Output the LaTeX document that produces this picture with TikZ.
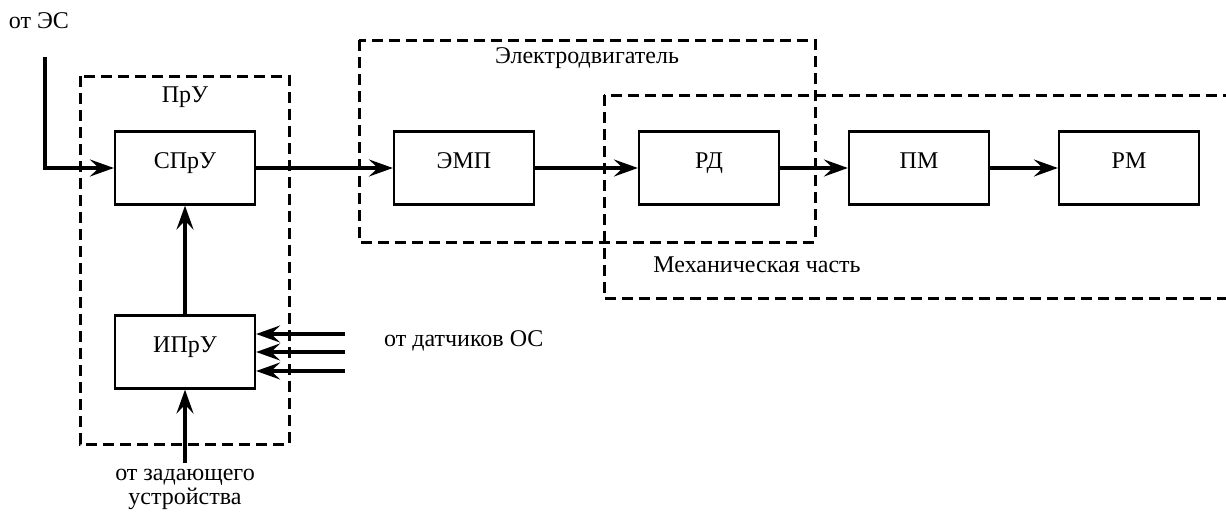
\documentclass[tikz,border=0pt]{standalone}
\usepackage{fontspec}
\setmainfont{Liberation Serif}
\newfontfamily\schemefont{Liberation Serif}
\usetikzlibrary{arrows.meta}
\begin{document}
\begin{tikzpicture}[x=1pt,y=-1pt,
  font=\schemefont\fontsize{24}{28}\selectfont,
  blk/.style={draw,line width=2.2pt,minimum width=140pt,minimum height=73pt,
    inner sep=0pt,text height=17pt,text depth=17pt},
  flow/.style={line width=3.4pt,-{Stealth[length=24pt,width=17pt,inset=9pt]}},
  group/.style={draw,line width=3pt,dash pattern=on 11pt off 6pt},
  lbl/.style={inner sep=0pt,anchor=center}]
\clip (0,0) rectangle (1226,517);
\fill[white] (0,0) rectangle (1226,517);

% dashed groupings
\draw[group] (80,76) rectangle (289,444);
\draw[group] (359,40) rectangle (815,242);
\draw[group] (604,95) rectangle (1260,298);
\node[lbl] (pru) at (185,97) {ПрУ};
\node[lbl] (ed) at (587,58) {Электродвигатель};
\node[lbl] (mech) at (757,265) {Механическая часть};

% blocks
\node[blk] (spru) at (185,168) {СПрУ};
\node[blk] (ipru) at (185,352) {ИПрУ};
\node[blk] (emp)  at (464,168) {ЭМП};
\node[blk] (rd)   at (709,168) {РД};
\node[blk] (pm)   at (919,168) {ПМ};
\node[blk] (rm)   at (1129,168) {РМ};

% external labels and sources
\node[lbl] (es) at (39,21) {от ЭС};
\coordinate (esin) at (45,57);
\node[lbl,align=center,font=\schemefont\fontsize{24}{24}\selectfont] (zad) at (185,489) {от задающего\\устройства};
\coordinate (zadin) at (185,463);
\node[lbl,anchor=west] (dat) at (384,341) {от датчиков ОС};
\coordinate (s1) at (345,334);
\coordinate (s2) at (345,352);
\coordinate (s3) at (345,371);

% connections
\draw[flow] (esin) |- (spru.west);
\draw[flow] (ipru) -- (spru);
\draw[flow] (zadin) -- (ipru);
\draw[flow] (s1) -- (ipru.east |- s1);
\draw[flow] (s2) -- (ipru.east |- s2);
\draw[flow] (s3) -- (ipru.east |- s3);
\draw[flow] (spru) -- (emp);
\draw[flow] (emp) -- (rd);
\draw[flow] (rd) -- (pm);
\draw[flow] (pm) -- (rm);
\end{tikzpicture}
\end{document}
